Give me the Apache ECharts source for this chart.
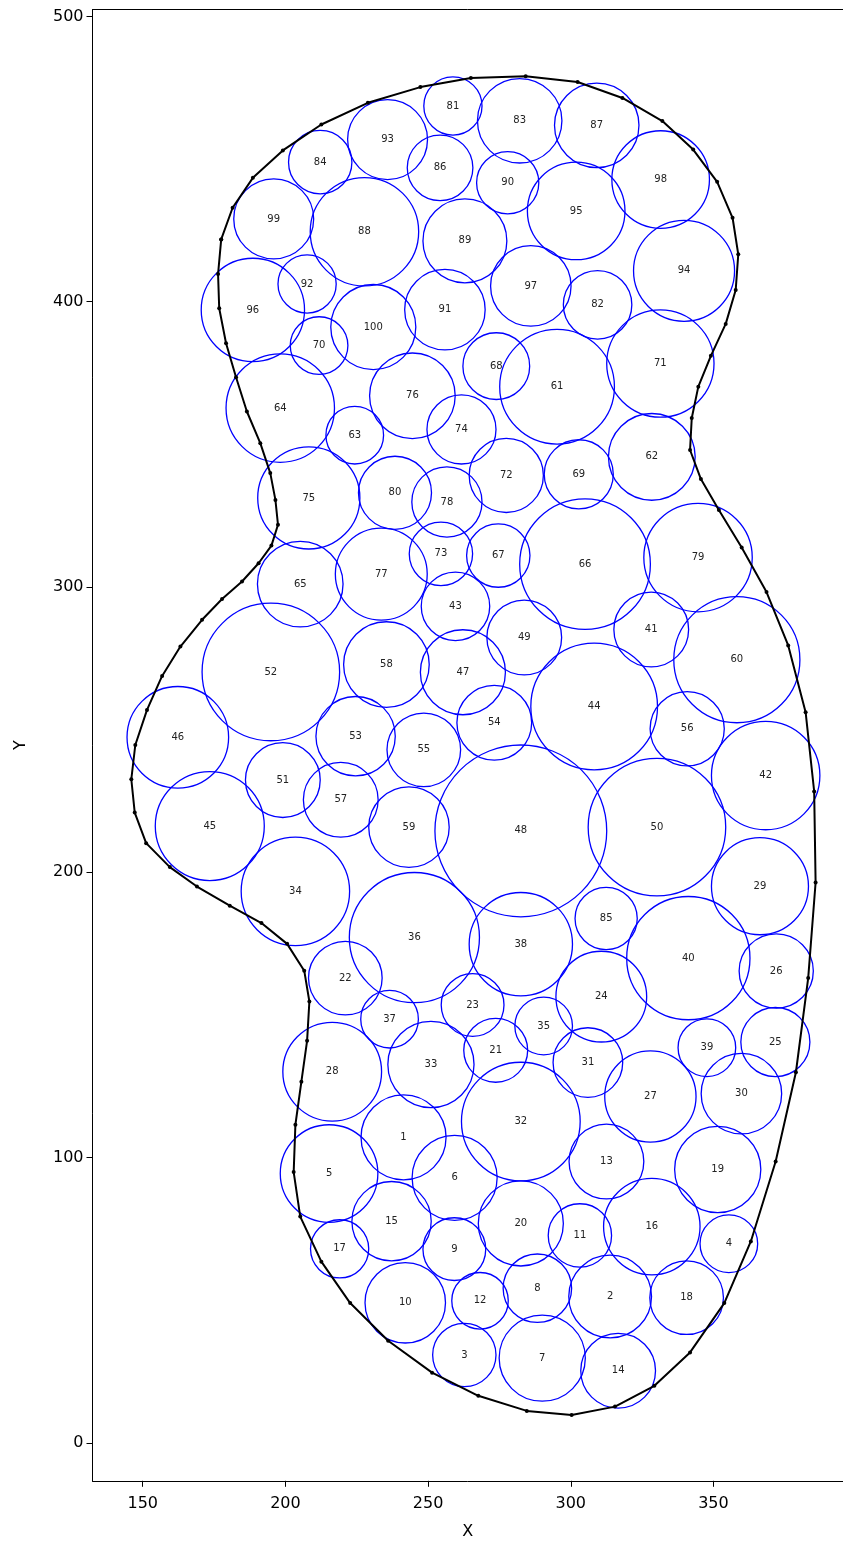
<!DOCTYPE html>
<html>
<head>
<meta charset="utf-8">
<script src="https://cdn.jsdelivr.net/npm/echarts@6/dist/echarts.min.js"></script>
<style>
  html, body { margin: 0; padding: 0; background: #fff; }
  #chart { width: 843px; height: 1541px; }
</style>
</head>
<body>
<div id="chart"></div>
<script>
// Packed circles: id, centre (x, y) and radius in data units
const circleIds = [1,2,3,4,5,6,7,8,9,10,11,12,13,14,15,16,17,18,19,20,21,22,23,24,25,26,27,28,29,30,31,32,33,34,35,36,37,38,39,40,41,42,43,44,45,46,47,48,49,50,51,52,53,54,55,56,57,58,59,60,61,62,63,64,65,66,67,68,69,70,71,72,73,74,75,76,77,78,79,80,81,82,83,84,85,86,87,88,89,90,91,92,93,94,95,96,97,98,99,100];
const circleX = [241.4,313.8,262.7,355.4,215.3,259.3,290.0,288.3,259.2,242.0,303.2,268.2,312.5,316.6,237.2,328.4,219.0,340.6,351.5,282.5,273.7,221.0,265.6,310.7,371.7,372.0,327.9,216.4,366.3,359.8,306.0,282.5,251.0,203.5,290.5,245.2,236.5,282.5,347.7,341.2,328.2,368.3,259.6,308.2,173.5,162.3,262.2,282.5,283.7,330.2,199.1,194.9,224.6,273.2,248.5,340.8,219.4,235.4,243.3,358.2,295.2,328.4,224.3,198.2,205.2,305.0,274.6,273.9,302.8,211.8,331.4,277.4,254.5,261.7,208.2,244.5,233.6,256.6,344.6,238.4,258.7,309.4,282.1,212.2,312.4,254.2,309.1,227.7,262.9,277.9,255.9,207.6,235.8,339.7,301.9,188.6,286.0,331.5,195.9,230.8];
const circleY = [107.1,51.3,30.8,69.8,94.4,92.9,29.7,54.2,67.9,49.1,72.7,49.8,98.6,25.3,77.7,75.8,68.0,50.9,95.8,76.9,137.6,162.9,153.5,156.4,140.5,165.4,121.4,130.1,195.1,122.4,133.3,112.6,132.6,193.3,146.1,177.1,148.5,174.8,138.5,169.9,285.1,233.9,293.2,258.1,216.2,247.3,270.1,214.5,282.3,215.8,232.3,270.2,247.7,252.4,242.9,250.3,225.4,272.8,215.8,274.5,370.2,345.6,353.2,362.7,301.0,308.0,311.0,377.4,339.5,384.6,378.3,339.1,311.6,355.2,331.2,367.0,304.5,329.8,310.3,333.0,468.6,398.9,463.4,448.9,183.8,446.9,461.8,424.5,421.3,441.7,397.2,406.2,456.8,410.8,431.8,397.1,405.5,442.8,429.0,391.1];
const circleR = [14.9,14.5,11.1,10.1,17.1,14.9,15.1,12.0,11.0,14.1,11.1,9.9,13.1,13.1,13.9,16.9,10.2,12.9,15.1,14.9,11.2,12.9,11.0,15.9,12.1,13.0,16.0,17.3,17.0,14.1,12.2,20.8,15.1,19.0,10.1,22.8,10.1,18.1,10.1,21.6,13.1,19.0,12.0,22.2,19.1,17.8,14.9,30.1,13.1,24.1,13.1,24.1,13.9,13.1,12.9,13.0,13.1,15.0,14.1,22.1,20.1,15.2,10.1,19.0,15.0,22.9,11.1,11.7,12.1,10.1,18.8,13.0,11.1,12.1,17.9,15.0,16.1,12.3,19.0,12.8,10.2,12.0,14.8,11.1,10.9,11.5,14.8,19.0,14.7,10.9,14.1,10.2,14.0,17.7,17.1,18.1,14.1,17.1,14.0,14.9];

// Closed outline that contains the circles
const boundaryX = [177.5,181.5,188.6,199.1,212.6,228.9,247.3,265.0,284.2,302.4,318.1,332.1,342.9,351.3,356.7,358.7,357.8,354.3,349.1,344.7,342.4,341.8,345.6,351.9,359.9,368.6,376.2,382.3,385.3,385.8,383.2,378.9,371.8,363.1,353.8,341.8,329.3,315.5,300.3,284.6,267.6,251.4,236.0,222.7,212.6,205.2,202.9,203.5,205.6,207.6,208.4,206.6,200.6,191.6,180.5,169.0,159.5,151.2,147.2,146.0,147.4,151.5,156.8,163.2,170.8,177.8,184.8,190.6,195.1,197.4,196.5,194.7,191.2,186.5,182.7,179.2,176.8,176.4];
const boundaryY = [421.8,432.9,443.4,453.0,462.1,469.7,475.2,478.4,479.0,477.0,471.4,463.3,453.3,442.0,429.4,416.6,404.1,392.2,381.0,370.2,359.2,348.0,337.8,327.0,313.8,298.2,279.5,256.1,228.3,196.4,162.9,129.9,98.6,70.6,49.0,31.7,20.0,12.7,9.8,11.2,16.5,24.6,35.8,49.0,63.5,79.3,94.9,111.5,126.6,140.9,154.7,165.5,174.9,182.2,188.3,195.0,201.8,210.2,220.9,232.6,244.6,256.9,268.8,279.1,288.5,295.8,301.9,308.3,314.5,321.8,330.5,339.9,350.4,361.5,373.5,385.4,397.7,409.7];

// Tick labels
const xTicks = [150, 200, 250, 300, 350];
const yTicks = [0, 100, 200, 300, 400, 500];

const circleData = circleIds.map((id, i) => [circleX[i], circleY[i], circleR[i], id]);
const boundaryData = boundaryX.map((x, i) => [x, boundaryY[i]]);
boundaryData.push([boundaryX[0], boundaryY[0]]);

const FONT = 'DejaVu Sans';
const X_MIN = 132.4, X_MAX = 395.4, Y_MIN = -13.3, Y_MAX = 502.4;
const chart = echarts.init(document.getElementById('chart'), null, { renderer: 'canvas' });

chart.setOption({
  animation: false,
  backgroundColor: '#ffffff',
  grid: {
    left: 92.5, top: 9.5, right: 0, bottom: 60.2, show: false,
    containLabel: false, outerBoundsMode: 'none'
  },
  xAxis: [
    {
      type: 'value', min: X_MIN, max: X_MAX, position: 'bottom',
      name: 'X', nameLocation: 'middle', nameGap: 43,
      nameTextStyle: { fontFamily: FONT, fontSize: 16, color: '#000' },
      splitLine: { show: false },
      axisLine: { show: true, onZero: false, lineStyle: { color: '#000', width: 1 } },
      axisTick: { show: true, length: 6, customValues: xTicks, lineStyle: { color: '#000' } },
      axisLabel: { customValues: xTicks, margin: 15, fontFamily: FONT, fontSize: 16, color: '#000' }
    },
    {
      // top frame line
      type: 'value', min: X_MIN, max: X_MAX, position: 'top',
      splitLine: { show: false },
      axisLine: { show: true, onZero: false, lineStyle: { color: '#000', width: 1 } },
      axisTick: { show: false },
      axisLabel: { show: false }
    }
  ],
  yAxis: {
    type: 'value', min: Y_MIN, max: Y_MAX,
    name: 'Y', nameLocation: 'middle', nameGap: 64, nameRotate: 90,
    nameTextStyle: { fontFamily: FONT, fontSize: 16, color: '#000' },
    splitLine: { show: false },
    axisLine: { show: true, onZero: false, lineStyle: { color: '#000', width: 1 } },
    axisTick: { show: true, length: 6, customValues: yTicks, lineStyle: { color: '#000' } },
    axisLabel: { customValues: yTicks, margin: 9, padding: [4, 0, 0, 0], fontFamily: FONT, fontSize: 16, color: '#000' }
  },
  series: [
    {
      type: 'custom',
      name: 'circles',
      coordinateSystem: 'cartesian2d',
      xAxisIndex: 0,
      silent: true,
      z: 2,
      data: circleData,
      encode: { x: 0, y: 1 },
      renderItem: function (params, api) {
        const c = api.coord([api.value(0), api.value(1)]);
        const r = api.size([api.value(2), 0])[0];
        return {
          type: 'group',
          children: [
            {
              type: 'circle',
              shape: { cx: c[0], cy: c[1], r: r },
              style: { fill: 'transparent', stroke: '#0000ff', lineWidth: 1.3 }
            },
            {
              type: 'text',
              x: c[0], y: c[1],
              style: {
                text: String(api.value(3)),
                fill: '#222', fontFamily: FONT, fontSize: 10,
                align: 'center', verticalAlign: 'middle'
              }
            }
          ]
        };
      }
    },
    {
      type: 'line',
      name: 'boundary',
      xAxisIndex: 0,
      data: boundaryData,
      silent: true,
      z: 3,
      symbol: 'circle',
      symbolSize: 4,
      itemStyle: { color: '#000' },
      lineStyle: { color: '#000', width: 2 }
    }
  ]
});
</script>
</body>
</html>
